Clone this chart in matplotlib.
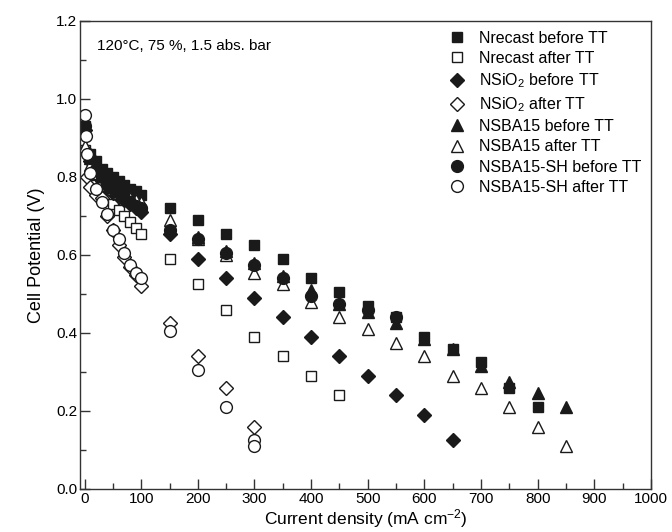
import matplotlib
matplotlib.use("Agg")
import matplotlib.pyplot as plt
from matplotlib.ticker import MultipleLocator, FormatStrFormatter

plt.rcParams['font.family'] = ['Liberation Sans', 'DejaVu Sans']
plt.rcParams['mathtext.fontset'] = 'custom'
plt.rcParams['mathtext.rm'] = 'Liberation Sans'
plt.rcParams['mathtext.it'] = 'Liberation Sans:italic'

# ---- data ----
x_low = [0, 10, 20, 30, 40, 50, 60, 70, 80, 90, 100]

nrecast_before_x = x_low + [150, 200, 250, 300, 350, 400, 450, 500, 550, 600, 650, 700, 750, 800]
nrecast_before_y = [0.93, 0.86, 0.84, 0.82, 0.81, 0.80, 0.79, 0.78, 0.77, 0.765, 0.755,
                    0.72, 0.69, 0.655, 0.625, 0.59, 0.54, 0.505, 0.47, 0.44, 0.39, 0.36, 0.325, 0.26, 0.21]

nrecast_after_x = x_low + [150, 200, 250, 300, 350, 400, 450]
nrecast_after_y = [0.87, 0.80, 0.78, 0.76, 0.745, 0.73, 0.715, 0.70, 0.685, 0.67, 0.655,
                   0.59, 0.525, 0.46, 0.39, 0.34, 0.29, 0.24]

nsio2_before_x = x_low + [150, 200, 250, 300, 350, 400, 450, 500, 550, 600, 650]
nsio2_before_y = [0.92, 0.84, 0.81, 0.79, 0.77, 0.76, 0.75, 0.74, 0.73, 0.72, 0.71,
                  0.655, 0.59, 0.54, 0.49, 0.44, 0.39, 0.34, 0.29, 0.24, 0.19, 0.125]

nsio2_after_x = [0, 5, 10, 20, 30, 40, 50, 60, 70, 80, 90, 100, 150, 200, 250, 300]
nsio2_after_y = [0.87, 0.80, 0.775, 0.755, 0.745, 0.70, 0.665, 0.625, 0.595, 0.57, 0.55, 0.52,
                 0.425, 0.34, 0.26, 0.16]

nsba15_before_x = x_low + [150, 200, 250, 300, 350, 400, 450, 500, 550, 600, 650, 700, 750, 800, 850]
nsba15_before_y = [0.92, 0.85, 0.82, 0.80, 0.79, 0.775, 0.765, 0.755, 0.745, 0.735, 0.73,
                   0.67, 0.645, 0.61, 0.58, 0.545, 0.51, 0.475, 0.455, 0.425, 0.385, 0.36, 0.315,
                   0.275, 0.245, 0.21]

nsba15_after_x = x_low + [150, 200, 250, 300, 350, 400, 450, 500, 550, 600, 650, 700, 750, 800, 850]
nsba15_after_y = [0.88, 0.83, 0.81, 0.79, 0.78, 0.77, 0.76, 0.75, 0.745, 0.74, 0.735,
                  0.69, 0.64, 0.60, 0.555, 0.525, 0.48, 0.44, 0.41, 0.375, 0.34, 0.29, 0.26,
                  0.21, 0.16, 0.11]

nsba15sh_before_x = x_low + [150, 200, 250, 300, 350, 400, 450, 500, 550]
nsba15sh_before_y = [0.93, 0.85, 0.82, 0.80, 0.78, 0.77, 0.76, 0.745, 0.735, 0.725, 0.72,
                     0.665, 0.64, 0.605, 0.575, 0.54, 0.495, 0.475, 0.46, 0.44]

nsba15sh_after_x = [0, 2, 5, 10, 20, 30, 40, 50, 60, 70, 80, 90, 100, 150, 200, 250, 300, 300]
nsba15sh_after_y = [0.96, 0.905, 0.86, 0.81, 0.77, 0.735, 0.705, 0.665, 0.64, 0.605, 0.575,
                    0.555, 0.54, 0.405, 0.305, 0.21, 0.125, 0.11]

labels = ["Nrecast before TT", "Nrecast after TT", "NSiO$_2$ before TT", "NSiO$_2$ after TT",
          "NSBA15 before TT", "NSBA15 after TT", "NSBA15-SH before TT", "NSBA15-SH after TT"]

fig = plt.figure(figsize=(6.72, 5.32), dpi=100)
# axes: left 80px, right 651px, top 21px, bottom 489px
ax = fig.add_axes([80 / 672, 1 - 489 / 532, 571 / 672, 468 / 532])

series = [
    (nrecast_before_x, nrecast_before_y, 's', '#1a1a1a', 7.5),
    (nrecast_after_x, nrecast_after_y, 's', 'white', 7.5),
    (nsio2_before_x, nsio2_before_y, 'D', '#1a1a1a', 7),
    (nsio2_after_x, nsio2_after_y, 'D', 'white', 7),
    (nsba15_before_x, nsba15_before_y, '^', '#1a1a1a', 8.5),
    (nsba15_after_x, nsba15_after_y, '^', 'white', 8.5),
    (nsba15sh_before_x, nsba15sh_before_y, 'o', '#1a1a1a', 8.5),
    (nsba15sh_after_x, nsba15sh_after_y, 'o', 'white', 8.5),
]
for (xs, ys, m, fc, ms), lab in zip(series, labels):
    ax.plot(xs, ys, linestyle='none', marker=m, markersize=ms, markerfacecolor=fc,
            markeredgecolor='#1a1a1a', markeredgewidth=1.0, label=lab)

ax.set_xlim(-8, 1000)
ax.set_ylim(0.0, 1.2)
ax.xaxis.set_major_locator(MultipleLocator(100))
ax.xaxis.set_minor_locator(MultipleLocator(50))
ax.yaxis.set_major_locator(MultipleLocator(0.2))
ax.yaxis.set_minor_locator(MultipleLocator(0.1))
ax.yaxis.set_major_formatter(FormatStrFormatter('%.1f'))
ax.tick_params(which='major', direction='in', length=7, width=1, labelsize=11,
               color='#333333', pad=2)
ax.tick_params(which='minor', direction='in', length=4, width=1, color='#333333')
for s in ax.spines.values():
    s.set_color('#333333')
    s.set_linewidth(1.0)

fig.text(0.5 * (80 + 651) / 672, 2 / 532, "Current density (mA cm$^{-2}$)", fontsize=12.5,
         ha='center', va='bottom')
ax.set_ylabel("Cell Potential (V)", fontsize=13)
ax.yaxis.set_label_coords(-0.062, 0.5)

ax.text(0.03, 0.962, "120°C, 75 %, 1.5 abs. bar", transform=ax.transAxes, fontsize=11,
        va='top', ha='left')

ax.legend(loc='upper right', bbox_to_anchor=(1.0, 1.0), frameon=False, fontsize=11.5,
          handletextpad=0.8, labelspacing=0.33, borderaxespad=0.2, handlelength=1.2)

fig.savefig("out.png", dpi=100)
